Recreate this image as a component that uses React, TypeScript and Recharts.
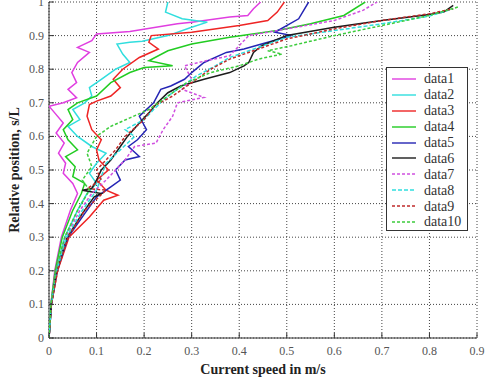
import { CartesianGrid, Legend, Scatter, ScatterChart, XAxis, YAxis } from 'recharts';

type Pt = [number, number];

const xTicks = [0, 0.1, 0.2, 0.3, 0.4, 0.5, 0.6, 0.7, 0.8, 0.9];
const yTicks = [0, 0.1, 0.2, 0.3, 0.4, 0.5, 0.6, 0.7, 0.8, 0.9, 1];
const xTickLabels = ['0', '0.1', '0.2', '0.3', '0.4', '0.5', '0.6', '0.7', '0.8', '0.9'];
const yTickLabels = ['0', '0.1', '0.2', '0.3', '0.4', '0.5', '0.6', '0.7', '0.8', '0.9', '1'];
const seriesNames = ['data1', 'data2', 'data3', 'data4', 'data5', 'data6', 'data7', 'data8', 'data9', 'data10'];

// (speed, relative position)
const data1: Pt[] = [
  [0, 0], [0.004, 0.1], [0.012, 0.2], [0.026, 0.3], [0.045, 0.38], [0.06, 0.43], [0.05, 0.46], [0.03, 0.49],
  [0.035, 0.52], [0.02, 0.55], [0.032, 0.58], [0.015, 0.61], [0.03, 0.64], [0.012, 0.67], [0.0, 0.69],
  [0.03, 0.7], [0.058, 0.715], [0.04, 0.74], [0.058, 0.76], [0.048, 0.79], [0.06, 0.82], [0.085, 0.85],
  [0.06, 0.865], [0.09, 0.885], [0.1, 0.905], [0.17, 0.912], [0.27, 0.935], [0.3, 0.94], [0.38, 0.955],
  [0.418, 0.96], [0.43, 0.98], [0.445, 1.0],
];
const data2: Pt[] = [
  [0, 0], [0.004, 0.1], [0.015, 0.2], [0.033, 0.3], [0.06, 0.38], [0.08, 0.43], [0.1, 0.46], [0.085, 0.49],
  [0.1, 0.52], [0.12, 0.55], [0.09, 0.57], [0.06, 0.6], [0.04, 0.63], [0.065, 0.65], [0.05, 0.68],
  [0.075, 0.7], [0.09, 0.72], [0.085, 0.745], [0.11, 0.77], [0.14, 0.8], [0.17, 0.82], [0.155, 0.845],
  [0.143, 0.875], [0.17, 0.88], [0.196, 0.883], [0.25, 0.9], [0.3, 0.925], [0.333, 0.94], [0.28, 0.95],
  [0.245, 0.97], [0.25, 1.0],
];
const data3: Pt[] = [
  [0, 0], [0.005, 0.1], [0.018, 0.2], [0.042, 0.3], [0.085, 0.36], [0.115, 0.41], [0.145, 0.425], [0.12, 0.44],
  [0.1, 0.47], [0.125, 0.5], [0.105, 0.53], [0.1, 0.56], [0.11, 0.59], [0.09, 0.62], [0.08, 0.66],
  [0.085, 0.695], [0.1, 0.705], [0.13, 0.72], [0.15, 0.745], [0.135, 0.77], [0.155, 0.8], [0.19, 0.835],
  [0.23, 0.86], [0.21, 0.88], [0.215, 0.9], [0.3, 0.91], [0.4, 0.93], [0.46, 0.945], [0.48, 0.97], [0.495, 1.0],
];
const data4: Pt[] = [
  [0, 0], [0.004, 0.1], [0.013, 0.2], [0.028, 0.3], [0.05, 0.38], [0.068, 0.43], [0.075, 0.46], [0.05, 0.48],
  [0.055, 0.51], [0.035, 0.54], [0.06, 0.56], [0.04, 0.59], [0.03, 0.62], [0.05, 0.65], [0.04, 0.68],
  [0.06, 0.7], [0.1, 0.72], [0.13, 0.76], [0.17, 0.79], [0.2, 0.805], [0.26, 0.81], [0.21, 0.825],
  [0.25, 0.855], [0.3, 0.875], [0.38, 0.895], [0.48, 0.915], [0.55, 0.935], [0.62, 0.96], [0.665, 1.0],
];
const data5: Pt[] = [
  [0, 0], [0.005, 0.1], [0.017, 0.2], [0.04, 0.3], [0.075, 0.37], [0.1, 0.42], [0.13, 0.45], [0.15, 0.47],
  [0.14, 0.5], [0.16, 0.53], [0.19, 0.54], [0.167, 0.57], [0.186, 0.59], [0.205, 0.62], [0.19, 0.66],
  [0.22, 0.7], [0.235, 0.74], [0.256, 0.75], [0.285, 0.77], [0.3, 0.79], [0.326, 0.82], [0.373, 0.85],
  [0.41, 0.86], [0.447, 0.875], [0.51, 0.9], [0.475, 0.91], [0.525, 0.95], [0.546, 1.0],
];
const data6: Pt[] = [
  [0, 0], [0.005, 0.1], [0.016, 0.2], [0.038, 0.3], [0.07, 0.37], [0.095, 0.42], [0.11, 0.43], [0.07, 0.44],
  [0.09, 0.445], [0.1, 0.47], [0.11, 0.5], [0.13, 0.53], [0.15, 0.57], [0.165, 0.6], [0.19, 0.64],
  [0.21, 0.67], [0.228, 0.7], [0.25, 0.73], [0.277, 0.75], [0.326, 0.77], [0.38, 0.79], [0.41, 0.81],
  [0.42, 0.82], [0.43, 0.85], [0.447, 0.87], [0.5, 0.9], [0.6, 0.925], [0.7, 0.945], [0.8, 0.963],
  [0.83, 0.97], [0.85, 0.99],
];
const data7: Pt[] = [
  [0, 0], [0.004, 0.1], [0.014, 0.2], [0.035, 0.3], [0.065, 0.38], [0.09, 0.43], [0.12, 0.47], [0.14, 0.5],
  [0.16, 0.53], [0.18, 0.57], [0.225, 0.58], [0.24, 0.62], [0.26, 0.66], [0.27, 0.7], [0.326, 0.716],
  [0.28, 0.74], [0.3, 0.77], [0.285, 0.81], [0.33, 0.825], [0.38, 0.84], [0.4, 0.87], [0.42, 0.9],
  [0.5, 0.92], [0.6, 0.945], [0.66, 0.975], [0.69, 1.0],
];
const data8: Pt[] = [
  [0, 0], [0.005, 0.1], [0.016, 0.2], [0.037, 0.3], [0.07, 0.38], [0.1, 0.44], [0.11, 0.48], [0.12, 0.52],
  [0.15, 0.56], [0.18, 0.6], [0.16, 0.62], [0.2, 0.65], [0.22, 0.68], [0.25, 0.72], [0.28, 0.75],
  [0.31, 0.78], [0.35, 0.81], [0.38, 0.835], [0.45, 0.87], [0.5, 0.895], [0.6, 0.915], [0.7, 0.935],
  [0.8, 0.958], [0.85, 0.98],
];
const data9: Pt[] = [
  [0, 0], [0.005, 0.1], [0.018, 0.2], [0.04, 0.3], [0.075, 0.38], [0.12, 0.44], [0.08, 0.445], [0.11, 0.47],
  [0.1, 0.5], [0.12, 0.53], [0.14, 0.56], [0.16, 0.6], [0.2, 0.65], [0.22, 0.69], [0.26, 0.72],
  [0.3, 0.76], [0.34, 0.8], [0.38, 0.83], [0.44, 0.86], [0.5, 0.89], [0.6, 0.92], [0.7, 0.945],
  [0.8, 0.965], [0.85, 0.98],
];
const data10: Pt[] = [
  [0, 0], [0.004, 0.1], [0.014, 0.2], [0.033, 0.3], [0.06, 0.38], [0.085, 0.44], [0.07, 0.47], [0.09, 0.51],
  [0.08, 0.55], [0.1, 0.6], [0.13, 0.63], [0.17, 0.655], [0.21, 0.68], [0.25, 0.72], [0.29, 0.76],
  [0.34, 0.79], [0.4, 0.81], [0.44, 0.83], [0.49, 0.845], [0.46, 0.855], [0.51, 0.87], [0.6, 0.9],
  [0.7, 0.93], [0.8, 0.96], [0.86, 0.985],
];

const seriesData = [data1, data2, data3, data4, data5, data6, data7, data8, data9, data10];

const styles = [
  { color: '#e03ee0', dash: undefined },
  { color: '#30dede', dash: undefined },
  { color: '#ee2424', dash: undefined },
  { color: '#22cc22', dash: undefined },
  { color: '#2424b4', dash: undefined },
  { color: '#1c1c1c', dash: undefined },
  { color: '#d050e0', dash: '3 2' },
  { color: '#30dede', dash: '4 2' },
  { color: '#c02a2a', dash: '3 2' },
  { color: '#3ccc3c', dash: '3 2' },
];

const FONT = 'Times New Roman, Liberation Serif, Times, serif';
const TICK_LEN = 5;
const GAP = 5;
const AXIS = '#333';

const BottomTick = (props: any) => {
  const { x, y, index } = props;
  const axisY = y - GAP;
  return (
    <g>
      <line x1={x} y1={axisY} x2={x} y2={axisY - TICK_LEN} stroke={AXIS} />
      <text x={x} y={axisY + 17} textAnchor="middle" fill="#555" fontSize={12} style={{ fontFamily: FONT }}>
        {xTickLabels[index]}
      </text>
    </g>
  );
};

const LeftTick = (props: any) => {
  const { x, y, index } = props;
  const axisX = x + GAP;
  return (
    <g>
      <line x1={axisX} y1={y} x2={axisX + TICK_LEN} y2={y} stroke={AXIS} />
      <text x={axisX - 5} y={y + 4} textAnchor="end" fill="#555" fontSize={12} style={{ fontFamily: FONT }}>
        {yTickLabels[index]}
      </text>
    </g>
  );
};

const TopTick = (props: any) => {
  const { x, y } = props;
  const axisY = y + GAP;
  return <line x1={x} y1={axisY} x2={x} y2={axisY + TICK_LEN} stroke={AXIS} />;
};

const RightTick = (props: any) => {
  const { x, y } = props;
  const axisX = x - GAP;
  return <line x1={axisX} y1={y} x2={axisX - TICK_LEN} y2={y} stroke={AXIS} />;
};

const XTitle = (props: any) => {
  const vb = props.viewBox;
  return (
    <text x={vb.x + vb.width / 2} y={vb.y + 36} textAnchor="middle" fill="#222" fontSize={14} fontWeight="bold" style={{ fontFamily: FONT }}>
      Current speed in m/s
    </text>
  );
};

const YTitle = (props: any) => {
  const vb = props.viewBox;
  const cx = 19;
  const cy = vb.y + vb.height / 2;
  return (
    <text x={cx} y={cy} transform={`rotate(-90 ${cx} ${cy})`} textAnchor="middle" fill="#222" fontSize={14} fontWeight="bold" style={{ fontFamily: FONT }}>
      Relative position, s/L
    </text>
  );
};

const PageMark = (props: any) => {
  const vb = props.viewBox;
  return (
    <text x={vb.x + 1} y={vb.y + 10} fill="#333" fontSize={11} style={{ fontFamily: 'Liberation Sans, Arial, sans-serif' }}>
      3
    </text>
  );
};

const LegendBox = () => (
  <div
    style={{
      width: 82,
      height: 164,
      boxSizing: 'border-box',
      border: '1.5px solid #333',
      background: '#fff',
      padding: '3px 0 0 5px',
      fontFamily: FONT,
      fontSize: 14,
      color: '#333',
    }}
  >
    {seriesNames.map((name, i) => (
      <div key={name} style={{ display: 'flex', alignItems: 'center', height: 15.9 }}>
        <svg width={24} height={4} style={{ display: 'block' }}>
          <line x1={0} y1={2} x2={24} y2={2} stroke={styles[i].color} strokeWidth={1.4} strokeDasharray={styles[i].dash} />
        </svg>
        <span style={{ marginLeft: 8, lineHeight: '15px' }}>{name}</span>
      </div>
    ))}
  </div>
);

const NoDot = () => <g />;

export default function App() {
  return (
    <div style={{ position: 'absolute', left: 0, top: 0, width: 485, height: 379, background: '#fff' }}>
      <ScatterChart width={485} height={379} margin={{ top: 2, right: 8, bottom: 0, left: 0 }}>
        <CartesianGrid stroke="#444" strokeDasharray="1 2" />
        <XAxis
          type="number"
          dataKey="x"
          domain={[0, 0.9]}
          ticks={xTicks}
          interval={0}
          allowDataOverflow
          height={41}
          tickSize={0}
          tickMargin={GAP}
          tickLine={false}
          axisLine={{ stroke: AXIS }}
          tick={<BottomTick />}
          label={{ content: <XTitle /> }}
        />
        <XAxis
          xAxisId="top"
          orientation="top"
          type="number"
          domain={[0, 0.9]}
          ticks={xTicks}
          interval={0}
          allowDataOverflow
          height={0}
          tickSize={0}
          tickMargin={GAP}
          tickLine={false}
          axisLine={{ stroke: AXIS }}
          tick={<TopTick />}
        />
        <YAxis
          type="number"
          dataKey="y"
          domain={[0, 1]}
          ticks={yTicks}
          interval={0}
          allowDataOverflow
          width={49}
          tickSize={0}
          tickMargin={GAP}
          tickLine={false}
          axisLine={{ stroke: AXIS }}
          tick={<LeftTick />}
          label={{ content: <YTitle /> }}
        />
        <YAxis
          yAxisId="right"
          orientation="right"
          type="number"
          domain={[0, 1]}
          ticks={yTicks}
          interval={0}
          allowDataOverflow
          width={0}
          tickSize={0}
          tickMargin={GAP}
          tickLine={false}
          axisLine={{ stroke: AXIS }}
          tick={<RightTick />}
          label={{ content: <PageMark /> }}
        />
        {seriesData.map((pts, i) => (
          <Scatter
            key={seriesNames[i]}
            name={seriesNames[i]}
            data={pts.map(([x, y]) => ({ x, y }))}
            line={{ stroke: styles[i].color, strokeWidth: 1.5, strokeDasharray: styles[i].dash }}
            lineJointType="linear"
            shape={<NoDot />}
            isAnimationActive={false}
          />
        ))}
        <Legend
          layout="vertical"
          align="center"
          verticalAlign="middle"
          content={<LegendBox />}
          wrapperStyle={{ position: 'absolute', left: 386, top: 67, width: 82, height: 164 }}
        />
      </ScatterChart>
    </div>
  );
}
